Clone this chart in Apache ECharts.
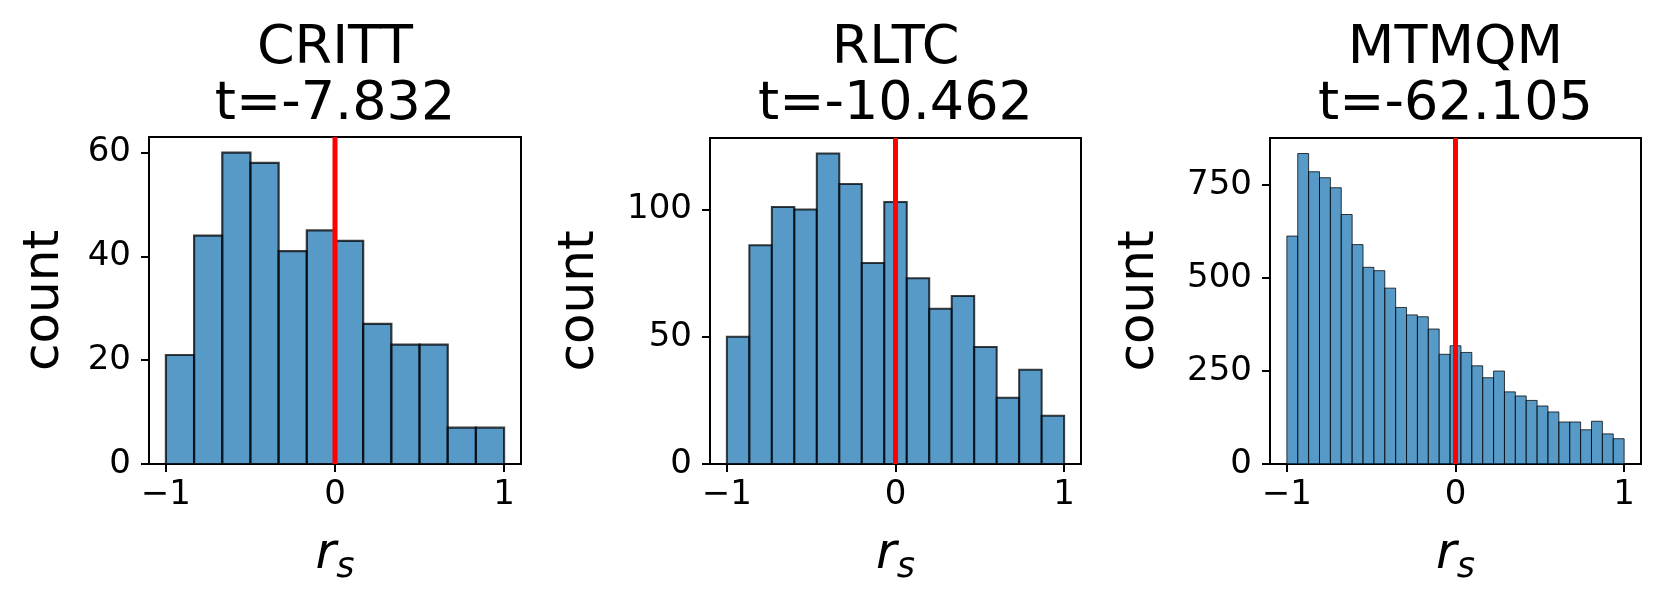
<!DOCTYPE html>
<html>
<head>
<meta charset="utf-8">
<title>r_s histograms</title>
<script src="https://cdn.jsdelivr.net/npm/echarts@6/dist/echarts.min.js"></script>
<style>
  html, body { margin: 0; padding: 0; background: #fff; }
  #chart { width: 1662px; height: 603px; }
</style>
</head>
<body>
<div id="chart"></div>
<script>
// 数据
const panelNames = ['CRITT', 'RLTC', 'MTMQM']
const tValues = ['-7.832', '-10.462', '-62.105']
const crittCounts = [21, 44, 60, 58, 41, 45, 43, 27, 23, 23, 7, 7]
const rltcCounts = [50, 86, 101, 100, 122, 110, 79, 103, 73, 61, 66, 46, 26, 37, 19]
const mtmqmCounts = [613, 835, 786, 770, 743, 671, 590, 529, 520, 473, 421, 401, 396, 363, 295,
  318, 300, 264, 232, 250, 194, 183, 171, 156, 140, 113, 113, 92, 115, 81, 68]
const xTicks = [-1, 0, 1]
const crittYTicks = [0, 20, 40, 60]
const rltcYTicks = [0, 50, 100]
const mtmqmYTicks = [0, 250, 500, 750]

const FONT = 'DejaVu Sans'
const counts = [crittCounts, rltcCounts, mtmqmCounts]
const yTicksAll = [crittYTicks, rltcYTicks, mtmqmYTicks]

// 布局
const grids = [
  { left: 149, top: 137, width: 372, height: 327 },
  { left: 710, top: 138, width: 371, height: 326 },
  { left: 1270, top: 138, width: 371, height: 326 }
]
const nameGaps = [79, 105, 105]
const edgeWidths = [2.2, 2, 1]

// 直方图的 bin: [左边界, 右边界, 数量]
function toBins(arr) {
  const n = arr.length
  return arr.map((c, i) => [-1 + 2 * i / n, -1 + 2 * (i + 1) / n, c])
}

function fmtMinus(v) {
  return v < 0 ? '\u2212' + Math.abs(v) : String(v)
}

const option = {
  animation: false,
  backgroundColor: '#fff',
  textStyle: { fontFamily: FONT },
  grid: grids.map(g => Object.assign({ show: true, borderColor: '#000', borderWidth: 2, containLabel: false }, g)),
  graphic: panelNames.map((name, i) => ({
    type: 'text',
    x: grids[i].left + grids[i].width / 2,
    y: 21,
    style: {
      text: name + '\nt=' + tValues[i],
      fontFamily: FONT,
      fontSize: 54,
      lineHeight: 56,
      textAlign: 'center',
      align: 'center',
      fill: '#000'
    }
  })),
  xAxis: panelNames.map((_, i) => ({
    type: 'value',
    gridIndex: i,
    min: -1.1,
    max: 1.1,
    name: '{r|r}{s|s}',
    nameLocation: 'middle',
    nameGap: 61,
    nameTextStyle: {
      rich: {
        r: { fontFamily: FONT, fontSize: 50, fontStyle: 'italic', lineHeight: 60, color: '#000' },
        s: { fontFamily: FONT, fontSize: 35, fontStyle: 'italic', lineHeight: 35, verticalAlign: 'bottom', color: '#000' }
      }
    },
    axisLine: { show: true, onZero: false, lineStyle: { color: '#000', width: 2 } },
    axisTick: { show: true, length: 8, customValues: xTicks, lineStyle: { color: '#000', width: 2 } },
    axisLabel: { show: true, customValues: xTicks, formatter: fmtMinus, fontSize: 34, color: '#000', margin: 14 },
    splitLine: { show: false }
  })),
  yAxis: panelNames.map((_, i) => ({
    type: 'value',
    gridIndex: i,
    min: 0,
    max: Math.max.apply(null, counts[i]) * 1.05,
    name: 'count',
    nameLocation: 'middle',
    nameRotate: 90,
    nameGap: nameGaps[i],
    nameTextStyle: { fontFamily: FONT, fontSize: 50, color: '#000' },
    axisLine: { show: true, onZero: false, lineStyle: { color: '#000', width: 2 } },
    axisTick: { show: true, length: 8, customValues: yTicksAll[i], lineStyle: { color: '#000', width: 2 } },
    axisLabel: { show: true, customValues: yTicksAll[i], fontSize: 34, color: '#000', margin: 18 },
    splitLine: { show: false }
  })),
  series: []
}

counts.forEach((arr, i) => {
  option.series.push({
    type: 'custom',
    xAxisIndex: i,
    yAxisIndex: i,
    data: toBins(arr),
    encode: { x: [0, 1], y: 2 },
    renderItem: function (params, api) {
      const p0 = api.coord([api.value(0), api.value(2)])
      const p1 = api.coord([api.value(1), 0])
      return {
        type: 'rect',
        shape: { x: p0[0], y: p0[1], width: p1[0] - p0[0], height: p1[1] - p0[1] },
        style: { fill: 'rgba(31,119,180,0.75)', stroke: 'rgba(0,0,0,0.75)', lineWidth: edgeWidths[i] }
      }
    },
    z: 2
  })
  // 红色竖线 r_s = 0
  option.series.push({
    type: 'line',
    xAxisIndex: i,
    yAxisIndex: i,
    data: [[0, 0], [0, Math.max.apply(null, arr) * 1.05]],
    symbol: 'none',
    lineStyle: { color: '#ff0000', width: 5 },
    z: 5
  })
})

const chart = echarts.init(document.getElementById('chart'))
chart.setOption(option)
</script>
</body>
</html>
